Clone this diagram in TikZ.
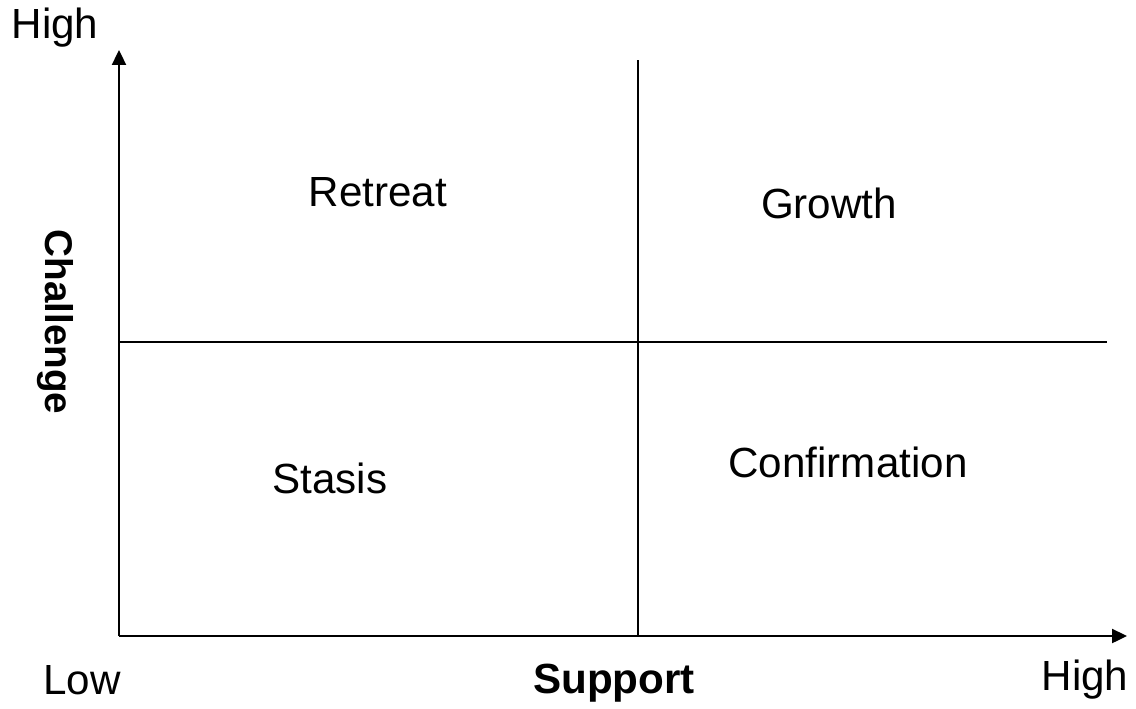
\documentclass[tikz,border=0pt]{standalone}
\usepackage{fontspec}
\setmainfont{Liberation Sans}
\usetikzlibrary{arrows.meta}
\begin{document}
\begin{tikzpicture}[x=0.02cm,y=-0.02cm,
  axis/.style={line width=1.1pt,-{Triangle[length=8.5pt,width=8pt]}},
  divider/.style={line width=0.9pt},
  lbl/.style={font=\fontsize{24}{28}\selectfont,inner sep=0pt},
  blbl/.style={font=\fontsize{24}{28}\selectfont\bfseries,inner sep=0pt}]
\useasboundingbox (0,0) rectangle (1136,708);
\coordinate (o) at (119,636);
\coordinate (ytip) at (119,50);
\coordinate (xtip) at (1127,636);
\coordinate (vtop) at (638,60);
\coordinate (vbot) at (638,636);
\coordinate (hl) at (119,342);
\coordinate (hr) at (1107,342);
\draw[divider] (vtop) -- (vbot);
\draw[divider] (hl) -- (hr);
\draw[axis] (o) -- (ytip);
\draw[axis] (o) -- (xtip);
\node[lbl] (yhigh) at (55,28) {High};
\node[lbl] (low) at (82,680) {Low};
\node[blbl] (sup) at (614,683) {Support};
\node[lbl] (xhigh) at (1085,680) {High};
\node[blbl,rotate=-90,font=\fontsize{22}{26}\selectfont\bfseries] (chal) at (55,322) {Challenge};
\node[lbl] (ret) at (378,192) {Retreat};
\node[lbl] (gro) at (829,203) {Growth};
\node[lbl] (sta) at (330,478) {Stasis};
\node[lbl] (con) at (848,462) {Confirmation};
\end{tikzpicture}
\end{document}
